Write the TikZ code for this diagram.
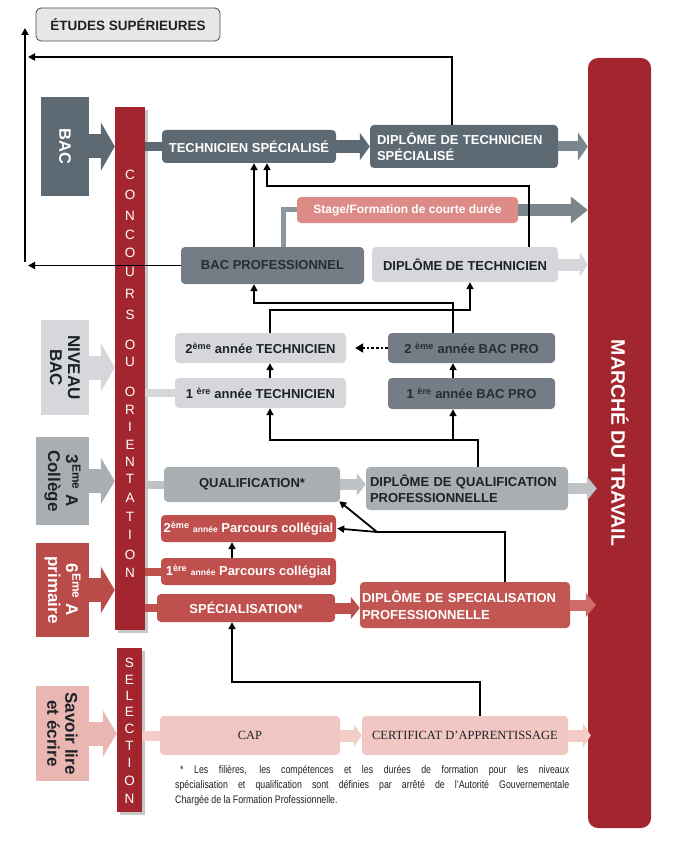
\documentclass[tikz,border=0pt]{standalone}
\usepackage{fontspec}
\setmainfont{Liberation Sans}
\newfontfamily\serifx{Liberation Serif}
\newfontfamily\narrowf[FakeStretch=0.8]{Liberation Sans}
\usetikzlibrary{arrows.meta}
\definecolor{dgray}{HTML}{5E6A73}
\definecolor{mgray}{HTML}{747D85}
\definecolor{lgray}{HTML}{D5D7DA}
\definecolor{qgray}{HTML}{A9AEB2}
\definecolor{qband}{HTML}{BFC3C6}
\definecolor{cred}{HTML}{A3262F}
\definecolor{rbox}{HTML}{BF504D}
\definecolor{rdsp}{HTML}{C25652}
\definecolor{rarrow}{HTML}{CF6C68}
\definecolor{rblock}{HTML}{B94B48}
\definecolor{stagec}{HTML}{DD8B86}
\definecolor{pinkc}{HTML}{F2C7C3}
\definecolor{pband}{HTML}{F3CCC8}
\definecolor{savc}{HTML}{E9B6B2}
\definecolor{sband}{HTML}{8D969C}
\definecolor{starrow}{HTML}{7B858C}
\definecolor{etud}{HTML}{E7E7E7}
\definecolor{dtext}{HTML}{1E2226}
\definecolor{btext}{HTML}{252E35}
\newcommand\fsz[2]{\fontsize{#1}{#2}\selectfont}
\begin{document}
\begin{tikzpicture}[x=1pt,y=-1pt,
  box/.style={rounded corners=4pt, inner sep=0pt, align=center, font=\bfseries\fsz{13}{16}},
  conn/.style={line width=1.8pt, -{Triangle[width=7pt,length=7pt]}},
  lblock/.style={inner sep=0pt},
  rotlab/.style={rotate=-90, align=center, font=\bfseries\fsz{17}{18}},
  conclet/.style={text=white, font=\fsz{13.5}{14}, inner sep=0pt},
  fat/.style={line width=#1}
]
\useasboundingbox (0,0) rectangle (673,850);

% ---------- bars ----------
\fill[black!22] (118,110) rectangle (148,633);
\node[fill=cred, minimum width=30pt, minimum height=523pt, inner sep=0pt] (conc) at (130,368.5) {};
\fill[black!22] (119.5,651) rectangle (145,815);
\node[fill=cred, minimum width=25pt, minimum height=164pt, inner sep=0pt] (sel) at (129.5,730) {};
\node[fill=cred, rounded corners=10pt, minimum width=63pt, minimum height=770pt, inner sep=0pt] (mt) at (619.5,443) {};

% ---------- left blocks ----------
\node[lblock, fill=dgray, minimum width=48pt, minimum height=99pt] (bac) at (65,146.5) {};
\draw[dgray, fat=24pt, -{Triangle[width=48pt,length=14pt]}] (bac.center) -- (bac.center -| conc.west);
\node[rotlab, text=white, font=\bfseries\fsz{16.5}{17}] (bact) at (bac.center) {BAC};

\node[lblock, fill=lgray, minimum width=48pt, minimum height=95pt] (niv) at (65,367.5) {};
\draw[lgray, fat=24pt, -{Triangle[width=48pt,length=14pt]}] (niv.center) -- (niv.center -| conc.west);
\node[rotlab, text=dtext] (nivt) at (niv.center) {NIVEAU\\BAC};

\node[lblock, fill=qgray, minimum width=53pt, minimum height=88pt] (col) at (62.5,481) {};
\draw[qgray, fat=24pt, -{Triangle[width=46pt,length=14pt]}] (col.center) -- (col.center -| conc.west);
\node[rotlab, text=dtext] (colt) at (col.center) {3\textsuperscript{Eme} A\\Collège};

\node[lblock, fill=rblock, minimum width=53pt, minimum height=94pt] (pri) at (62.5,590) {};
\draw[rblock, fat=24pt, -{Triangle[width=46pt,length=14pt]}] (pri.center) -- (pri.center -| conc.west);
\node[rotlab, text=white] (prit) at (pri.center) {6\textsuperscript{Eme} A\\primaire};

\node[lblock, fill=savc, minimum width=53pt, minimum height=95pt] (sav) at (62.5,733.5) {};
\draw[savc, fat=24pt, -{Triangle[width=46pt,length=14pt]}] (sav.center) -- (sav.center -| sel.west);
\node[rotlab, text=dtext] (savt) at (sav.center) {Savoir lire\\et écrire};

% ---------- bar letters ----------
\foreach \l/\y [count=\i] in {C/175,O/195,N/216,C/235,O/253,U/272,R/294,S/315,O/345,U/362,O/392,R/410,I/427,E/445,N/462,T/479,A/498,T/517,I/535,O/555,N/573}
  \node[conclet] (cl\i) at (130,\y) {\l};
\foreach \l/\y [count=\i] in {S/663,E/680,L/696,E/712,C/729,T/746,I/763,O/781,N/799}
  \node[conclet] (sl\i) at (129.5,\y) {\l};
\node[rotate=-90, text=white, font=\bfseries\fsz{19.5}{20}] (mtt) at (620,443) {MARCHÉ DU TRAVAIL};

% ---------- boxes ----------
\node[box, fill=etud, draw=black!70, line width=0.8pt, text=dtext, rounded corners=5pt, minimum width=184pt, minimum height=33pt, font=\bfseries\fsz{13.5}{14}] (etudes) at (128,24.5) {ÉTUDES SUPÉRIEURES};

\node[box, fill=dgray, text=white, minimum width=174pt, minimum height=33pt] (ts) at (249,146.5) {TECHNICIEN SPÉCIALISÉ};
\node[box, fill=dgray, text=white, minimum width=188pt, minimum height=43pt, text width=174pt, align=left, font=\bfseries\fsz{13}{16.5}] (dts) at (464,146.5) {DIPLÔME DE TECHNICIEN\\SPÉCIALISÉ};
\node[box, fill=stagec, text=white, minimum width=221pt, minimum height=26pt, font=\bfseries\fsz{12}{13}] (stage) at (407.5,210) {Stage/Formation de courte durée};
\node[box, fill=mgray, text=btext, minimum width=183pt, minimum height=37pt] (bacpro) at (272.5,265.5) {BAC PROFESSIONNEL};
\node[box, fill=lgray, text=dtext, minimum width=186pt, minimum height=35pt] (dt) at (465,264.5) {DIPLÔME DE TECHNICIEN};

\node[box, fill=lgray, text=dtext, minimum width=171pt, minimum height=30pt] (t2) at (260.5,348) {2\textsuperscript{ème} année TECHNICIEN};
\node[box, fill=lgray, text=dtext, minimum width=171pt, minimum height=30pt] (t1) at (260.5,393) {1 \textsuperscript{ère} année TECHNICIEN};
\node[box, fill=mgray, text=btext, minimum width=167pt, minimum height=30pt] (bp2) at (471.5,348) {2 \textsuperscript{ème} année BAC PRO};
\node[box, fill=mgray, text=btext, minimum width=167pt, minimum height=31pt] (bp1) at (471.5,393.5) {1 \textsuperscript{ère} année BAC PRO};

\node[box, fill=qgray, text=dtext, minimum width=176pt, minimum height=35pt] (qual) at (252,484.5) {QUALIFICATION*};
\node[box, fill=qgray, text=dtext, minimum width=202pt, minimum height=43pt, text width=194pt, align=left, font=\bfseries\fsz{13}{15.5}] (dqp) at (467,488.5) {DIPLÔME DE QUALIFICATION\\PROFESSIONNELLE};

\node[box, fill=rbox, text=white, minimum width=175pt, minimum height=27pt] (pc2) at (248.5,528.5) {2\textsuperscript{ème} {\fsz{8.5}{9}année} Parcours collégial};
\node[box, fill=rbox, text=white, minimum width=175pt, minimum height=27pt] (pc1) at (248.5,571.5) {1\textsuperscript{ère} {\fsz{8.5}{9}année} Parcours collégial};
\node[box, fill=rbox, text=white, minimum width=178pt, minimum height=28pt] (spe) at (246,608) {SPÉCIALISATION*};
\node[box, fill=rdsp, text=white, minimum width=210pt, minimum height=46pt, text width=206pt, align=left, font=\bfseries\fsz{13}{17}] (dsp) at (465,605) {DIPLÔME DE SPECIALISATION\\PROFESSIONNELLE};

\node[box, fill=pinkc, text=dtext, minimum width=180pt, minimum height=39pt, font=\serifx\fsz{12.5}{14}] (cap) at (250,735.5) {CAP};
\node[box, fill=pinkc, text=dtext, minimum width=206pt, minimum height=39pt, font=\serifx\fsz{12.5}{14}] (cert) at (465,735.5) {CERTIFICAT D’APPRENTISSAGE};

\node[anchor=north west, inner sep=0pt, text width=394pt, align=justify, text=dtext, font=\narrowf\fsz{11}{15}] (note) at (175,765) {\hspace*{5pt}* Les filières, les compétences et les durées de formation pour les niveaux\linebreak spécialisation et qualification sont définies par arrêté de l’Autorité Gouvernementale\linebreak Chargée de la Formation Professionnelle.};

% ---------- coloured bands ----------
\draw[dgray, fat=9pt] (conc.east |- ts.west) -- (ts.west);
\draw[dgray, fat=13pt, -{Triangle[width=27pt,length=10pt]}] (ts.east) -- (dts.west |- ts.east);
\draw[starrow, fat=10pt, -{Triangle[width=28pt,length=10pt]}] (dts.east) -- (mt.west |- dts.east);
\draw[sband, fat=5pt] (283,0 |- bacpro.north) |- (stage.west);
\draw[starrow, fat=12pt, -{Triangle[width=26pt,length=17pt]}] (stage.east) -- (mt.west |- stage.east);
\draw[lgray, fat=12pt, -{Triangle[width=24pt,length=8pt]}] (dt.east) -- (mt.west |- dt.east);
\draw[lgray, fat=8pt] (conc.east |- t1.west) -- (t1.west);
\draw[qband, fat=8pt] (conc.east |- qual.west) -- (qual.west);
\draw[qband, fat=11pt, -{Triangle[width=22pt,length=9pt]}] (qual.east) -- (dqp.west |- qual.east);
\draw[qband, fat=11pt, -{Triangle[width=24pt,length=10pt]}] (dqp.east) -- ([xshift=9pt]mt.west |- dqp.east);
\draw[rbox, fat=8pt] (conc.east |- pc1.west) -- (pc1.west);
\draw[rbox, fat=8pt] (conc.east |- spe.west) -- (spe.west);
\draw[rbox, fat=11pt, -{Triangle[width=22pt,length=9pt]}] (spe.east) -- (dsp.west |- spe.east);
\draw[rarrow, fat=11pt, -{Triangle[width=24pt,length=10pt]}] (dsp.east) -- ([xshift=8pt]mt.west |- dsp.east);
\draw[pband, fat=10pt] (sel.east |- cap.west) -- (cap.west);
\draw[pband, fat=12pt, -{Triangle[width=22pt,length=8pt]}] (cap.east) -- (cert.west |- cap.east);
\draw[pband, fat=12pt, -{Triangle[width=24pt,length=8pt]}] (cert.east) -- ([xshift=3pt]mt.west |- cert.east);

% ---------- black connectors ----------
\coordinate (topleft) at (25,28);
\coordinate (leftmid) at (25,262);
\draw[conn] (leftmid) -- (topleft);
\draw[conn] (452,0 |- dts.north) |- (28,57);
\draw[conn] (bacpro.west) -- (28,0 |- bacpro.west);
\draw[conn] (254,0 |- bacpro.north) -- (254,0 |- ts.south);
\draw[conn] (529,0 |- dt.north) |- (267,186) -- (267,0 |- ts.south);
\draw[conn] (453,0 |- bp2.north) |- (254,303) -- (254,0 |- bacpro.south);
\draw[conn] (270,0 |- t2.north) |- (470,310) -- (470,0 |- dt.south);
\draw[line width=2.6pt, dotted, -{Triangle[width=9pt,length=8pt]}] (bp2.west) -- ([xshift=9pt]t2.east);
\draw[conn] (453,0 |- bp1.north) -- (453,0 |- bp2.south);
\draw[conn] (270,0 |- t1.north) -- (270,0 |- t2.south);
\draw[conn] (478,0 |- dqp.north) |- (270,440) -- (270,0 |- t1.south);
\draw[conn] (453,440) -- (453,0 |- bp1.south);
\coordinate (split) at (377,532);
\draw[conn] (505,0 |- dsp.north) |- (split) -- ([shift={(-1pt,1pt)}]qual.south east);
\draw[conn] (split) -- ([xshift=1pt]pc2.east);
\draw[conn] (232,0 |- pc1.north) -- (232,0 |- pc2.south);
\draw[conn] (480,0 |- cert.north) |- (232,682) -- (232,0 |- spe.south);
\end{tikzpicture}
\end{document}
